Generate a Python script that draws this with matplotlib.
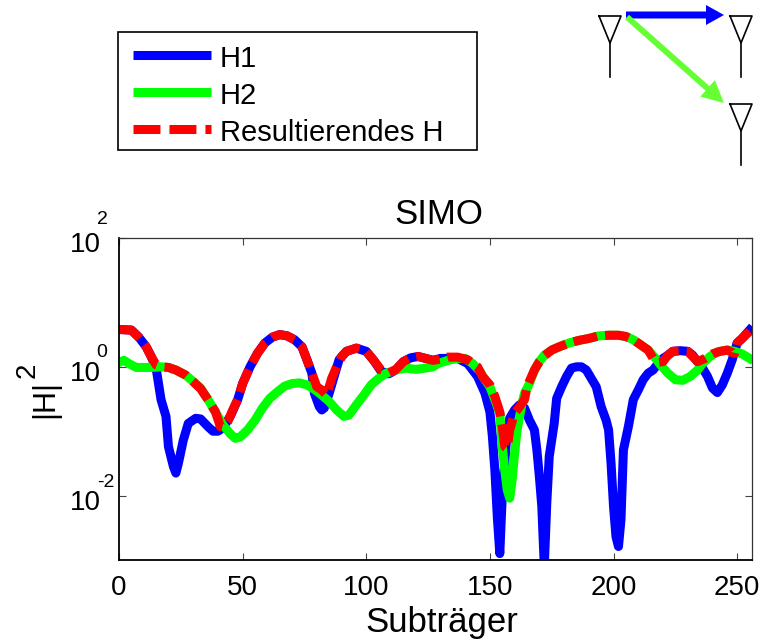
import numpy as np
import matplotlib
matplotlib.use('Agg')
import matplotlib.pyplot as plt
from matplotlib.patches import FancyArrow, Rectangle
from matplotlib.transforms import ScaledTranslation

plt.rcParams['font.family'] = ['Liberation Sans', 'DejaVu Sans']
plt.rcParams['lines.scale_dashes'] = False

# values are read as exponents, |H|^2 = 10**exp
h1_x = [0,5,8,11,13,15,17,19,20,22,23,24,26,28,31,33,36,38,40,42,45,48,50,53,56,59,62,65,68,71,74,76,78,79,81,82,83,85,87,89,92,96,100,103,106,109,112,115,118,121,124,127,130,137,141,145,148,150,151,152,153,154,155,156,157,158,160,162,164,166,168,169,170,171,172,173,174,176,177,179,181,183,185,187,189,191,193,195,197,198,199,200,201,202,203,204,206,208,210,212,214,216,218,220,222,224,227,230,232,234,236,238,240,242,244,246,248,250,252,255]
h1_exp = [0.58,0.57,0.46,0.31,0.16,-0.02,-0.51,-0.77,-1.24,-1.55,-1.65,-1.50,-1.14,-0.88,-0.80,-0.81,-0.93,-1.00,-1.00,-0.95,-0.77,-0.51,-0.26,0.00,0.21,0.37,0.46,0.50,0.48,0.42,0.31,0.11,-0.10,-0.41,-0.62,-0.67,-0.64,-0.41,-0.15,0.11,0.24,0.29,0.24,0.10,-0.07,-0.11,-0.05,0.08,0.14,0.16,0.13,0.10,0.13,0.13,0.05,-0.15,-0.41,-0.70,-1.08,-1.60,-2.33,-2.90,-2.01,-1.50,-0.98,-0.80,-0.67,-0.59,-0.64,-0.83,-0.98,-1.29,-1.70,-2.17,-3.10,-2.12,-1.39,-0.88,-0.49,-0.31,-0.15,-0.02,0.00,0.00,-0.05,-0.18,-0.31,-0.62,-0.83,-0.98,-1.50,-2.17,-2.64,-2.79,-2.38,-1.29,-0.93,-0.51,-0.36,-0.20,-0.10,-0.05,0.05,0.13,0.18,0.24,0.25,0.24,0.18,0.08,-0.02,-0.15,-0.33,-0.40,-0.28,-0.10,0.11,0.37,0.44,0.57]

h2_x = [0,2,4,7,13,17,20,23,27,30,33,36,39,42,45,47,49,52,55,58,61,64,67,70,73,76,79,82,85,88,91,93,96,99,102,105,108,112,116,120,124,127,129,133,137,140,143,146,148,150,152,154,155,156,157,158,159,160,161,162,163,164,166,168,170,172,175,178,182,186,190,194,198,202,205,208,211,214,217,219,222,225,228,231,234,236,239,242,246,249,252,255]
h2_exp = [0.07,0.10,0.05,-0.01,-0.01,0.00,-0.01,-0.05,-0.13,-0.23,-0.33,-0.51,-0.70,-0.90,-1.04,-1.11,-1.09,-0.98,-0.83,-0.64,-0.49,-0.39,-0.30,-0.26,-0.25,-0.28,-0.35,-0.44,-0.54,-0.67,-0.77,-0.75,-0.59,-0.44,-0.28,-0.18,-0.10,-0.05,-0.02,-0.04,-0.02,0.00,0.05,0.10,0.13,0.13,0.05,-0.07,-0.20,-0.31,-0.51,-0.72,-1.24,-1.60,-1.91,-2.04,-1.76,-1.34,-0.98,-0.77,-0.57,-0.41,-0.26,-0.05,0.08,0.18,0.26,0.31,0.37,0.41,0.44,0.48,0.49,0.49,0.47,0.42,0.34,0.26,0.13,0.03,-0.10,-0.20,-0.21,-0.15,-0.05,0.05,0.16,0.23,0.26,0.24,0.20,0.13]

res_x = [0,5,8,11,13,15,17,20,23,27,30,33,36,39,41,42,44,46,48,50,53,56,59,62,65,68,71,74,76,78,80,82,84,86,88,90,92,96,100,103,106,109,112,115,118,121,124,127,130,133,137,141,145,147,150,152,154,155,156,157,158,160,162,164,165,168,170,172,175,178,182,186,190,194,198,202,205,208,211,214,216,218,220,222,224,227,230,232,234,237,240,243,246,248,249,250,252,255]
res_exp = [0.58,0.57,0.46,0.31,0.16,0.03,0.00,-0.01,-0.05,-0.13,-0.23,-0.34,-0.51,-0.70,-0.93,-0.94,-0.85,-0.67,-0.51,-0.26,0.00,0.21,0.37,0.46,0.50,0.48,0.42,0.31,0.11,-0.10,-0.31,-0.36,-0.44,-0.18,0.00,0.16,0.24,0.29,0.24,0.10,-0.05,-0.10,-0.04,0.08,0.14,0.16,0.13,0.10,0.12,0.15,0.15,0.11,0.00,-0.15,-0.28,-0.46,-0.70,-0.93,-1.24,-1.27,-0.98,-0.72,-0.62,-0.51,-0.31,-0.05,0.08,0.17,0.26,0.31,0.37,0.41,0.44,0.48,0.49,0.49,0.47,0.42,0.34,0.26,0.13,0.07,0.08,0.18,0.24,0.25,0.24,0.16,0.08,0.13,0.20,0.24,0.26,0.22,0.21,0.37,0.44,0.55]

xticks = [0, 50, 100, 150, 200, 250]
yticks = [1e-2, 1e0, 1e2]
exponents = ['-2', '0', '2']
exp_lift = [13, 14.5, 18]   # px above the tick

fig = plt.figure(figsize=(7.7, 6.4), dpi=100)
ax = fig.add_axes([119/770, 1-560/640, 633/770, 322/640])

ax.semilogy(h1_x, 10.0**np.array(h1_exp), color='#0000ff', lw=6.5, solid_joinstyle='round', label='H1')
ax.semilogy(h2_x, 10.0**np.array(h2_exp), color='#00ff00', lw=6.5, solid_joinstyle='round', label='H2')
ax.semilogy(res_x, 10.0**np.array(res_exp), color='#ff0000', lw=6.5, ls=(0, (17.3, 5.8)), dash_capstyle='butt',
            dash_joinstyle='round', label='Resultierendes H')

ax.set_xlim(0, 256)
ax.set_ylim(1e-3, 1e2)
ax.set_xticks(xticks)
ax.set_yticks(yticks)
ax.minorticks_off()
ax.set_yticklabels(['10'] * 3)
ax.tick_params(direction='in', length=5, width=0.8, color='#444444', top=True, right=True, labelsize=20, pad=13)
ax.tick_params(axis='x', pad=10.8)
for s in ['left', 'bottom']:
    ax.spines[s].set_linewidth(1.3)
for s in ['top', 'right']:
    ax.spines[s].set_linewidth(0.9)
    ax.spines[s].set_color('#333333')

# matlab style exponents, raised well above the 10
down = ScaledTranslation(0, -4.5/100, fig.dpi_scale_trans)
for lab in ax.get_yticklabels():
    lab.set_transform(lab.get_transform() + down)
trans = ax.get_yaxis_transform()
for yt, ex, lift in zip(yticks, exponents, exp_lift):
    up = ScaledTranslation(-22.3/100, lift/100, fig.dpi_scale_trans)
    ax.text(0, yt, ex, transform=trans + up, fontsize=14, ha='left', va='center')

ax.set_title('SIMO', fontsize=25, x=0.505, pad=10)
ax.set_xlabel('Subträger', fontsize=25)
ax.xaxis.set_label_coords(0.51, -0.143)
ax.set_ylabel('|H|', fontsize=22)
ax.yaxis.set_label_coords(-0.093, 0.50)
ax.text(-0.144, 0.59, '2', transform=ax.transAxes, fontsize=20, rotation=90, ha='center', va='center')

# frame is drawn by hand below, the text sits off-centre in it
leg = ax.legend(loc='center left', bbox_to_anchor=(118/770, 1-95/640), bbox_transform=fig.transFigure,
                fontsize=21, frameon=False, borderaxespad=0, handlelength=2.7, handletextpad=0.3,
                handleheight=1.15, labelspacing=0.22, borderpad=0.5)
for ln in leg.get_lines():
    ln.set_solid_capstyle('butt')
leg.get_lines()[2].set_linestyle((0, (19.4, 6.5)))

# antenna sketch and legend frame, drawn in picture pixels
sk = fig.add_axes([0, 0, 1, 1], facecolor='none')
sk.set_xlim(0, 770)
sk.set_ylim(640, 0)
sk.axis('off')
sk.add_patch(Rectangle((118, 32), 359, 118, fill=False, edgecolor='black', lw=1.2))
for cx, top in [(610, 16), (741, 16), (741, 104)]:
    sk.plot([cx-11, cx+11, cx, cx-11], [top, top, top+27, top], color='black', lw=1.2)
    sk.plot([cx, cx], [top+27, top+61], color='black', lw=1.2)
sk.add_patch(FancyArrow(626, 15, 98, 0, width=7, head_width=20, head_length=18,
                        length_includes_head=True, color='#0000ff', lw=0))
sk.add_patch(FancyArrow(627, 17, 97, 86, width=6, head_width=22, head_length=22,
                        length_includes_head=True, color='#66ff33', lw=0))

fig.savefig('out.png', dpi=100)
